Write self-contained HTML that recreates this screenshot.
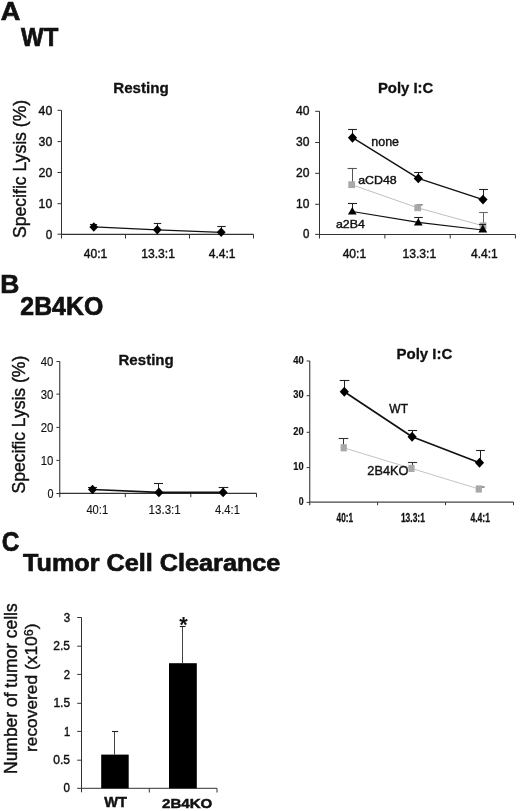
<!DOCTYPE html>
<html><head><meta charset="utf-8"><style>
html,body{margin:0;padding:0;background:#fff;}
body{width:520px;height:811px;overflow:hidden;}
svg{display:block;will-change:transform;font-family:"Liberation Sans",sans-serif;}
</style></head><body>
<svg width="520" height="811" viewBox="0 0 520 811">
<rect width="520" height="811" fill="#fff"/>
<text x="0.69" y="19.95" font-size="26.60" font-weight="bold" fill="#111" stroke="#111" stroke-width="0.7" textLength="19.59" lengthAdjust="spacingAndGlyphs">A</text>
<text x="21.05" y="45.95" font-size="25.29" font-weight="bold" fill="#111" stroke="#111" stroke-width="0.7" textLength="37.22" lengthAdjust="spacingAndGlyphs">WT</text>
<line x1="61.5" y1="110.2" x2="61.5" y2="238.5" stroke="#333" stroke-width="1"/>
<line x1="57.5" y1="110.3" x2="61.5" y2="110.3" stroke="#333" stroke-width="1"/>
<line x1="57.5" y1="141.6" x2="61.5" y2="141.6" stroke="#333" stroke-width="1"/>
<line x1="57.5" y1="172.5" x2="61.5" y2="172.5" stroke="#333" stroke-width="1"/>
<line x1="57.5" y1="203.7" x2="61.5" y2="203.7" stroke="#333" stroke-width="1"/>
<line x1="57.5" y1="234.2" x2="61.5" y2="234.2" stroke="#333" stroke-width="1"/>
<line x1="61.5" y1="234.4" x2="253.5" y2="234.4" stroke="#333" stroke-width="1.2"/>
<line x1="125.5" y1="234.4" x2="125.5" y2="238.5" stroke="#333" stroke-width="1"/>
<line x1="189.5" y1="234.4" x2="189.5" y2="238.5" stroke="#333" stroke-width="1"/>
<line x1="253.5" y1="234.4" x2="253.5" y2="238.5" stroke="#333" stroke-width="1"/>
<text x="38.57" y="114.65" font-size="13.04" font-weight="normal" fill="#111" stroke="#111" stroke-width="0.4" textLength="13.71" lengthAdjust="spacingAndGlyphs">40</text>
<text x="38.58" y="145.95" font-size="13.04" font-weight="normal" fill="#111" stroke="#111" stroke-width="0.4" textLength="13.70" lengthAdjust="spacingAndGlyphs">30</text>
<text x="38.59" y="176.85" font-size="13.04" font-weight="normal" fill="#111" stroke="#111" stroke-width="0.4" textLength="13.69" lengthAdjust="spacingAndGlyphs">20</text>
<text x="38.60" y="208.05" font-size="13.04" font-weight="normal" fill="#111" stroke="#111" stroke-width="0.4" textLength="13.68" lengthAdjust="spacingAndGlyphs">10</text>
<text x="45.69" y="238.55" font-size="13.04" font-weight="normal" fill="#111" stroke="#111" stroke-width="0.4" textLength="6.54" lengthAdjust="spacingAndGlyphs">0</text>
<text x="113.23" y="92.65" font-size="14.90" font-weight="bold" fill="#111" stroke="#111" stroke-width="0.3" textLength="55.57" lengthAdjust="spacingAndGlyphs">Resting</text>
<text transform="translate(26.40 238.03) rotate(-90)" x="0" y="0" font-size="18" font-weight="normal" fill="#111" stroke="#111" stroke-width="0.4" textLength="138.22" lengthAdjust="spacingAndGlyphs">Specific Lysis (%)</text>
<text x="83.75" y="257.75" font-size="11.89" font-weight="normal" fill="#111" stroke="#111" stroke-width="0.4" textLength="23.48" lengthAdjust="spacingAndGlyphs">40:1</text>
<text x="141.28" y="257.75" font-size="11.89" font-weight="normal" fill="#111" stroke="#111" stroke-width="0.4" textLength="33.72" lengthAdjust="spacingAndGlyphs">13.3:1</text>
<text x="208.75" y="257.75" font-size="12.06" font-weight="normal" fill="#111" stroke="#111" stroke-width="0.4" textLength="26.81" lengthAdjust="spacingAndGlyphs">4.4:1</text>
<line x1="157.5" y1="229.8" x2="157.5" y2="223.5" stroke="#222" stroke-width="1"/>
<line x1="153.8" y1="223.5" x2="161.2" y2="223.5" stroke="#222" stroke-width="1.1"/>
<line x1="221.5" y1="232.3" x2="221.5" y2="226.5" stroke="#222" stroke-width="1"/>
<line x1="217.3" y1="226.5" x2="225.7" y2="226.5" stroke="#222" stroke-width="1.1"/>
<line x1="93.5" y1="226.9" x2="93.5" y2="224.5" stroke="#222" stroke-width="1"/>
<line x1="89.9" y1="224.5" x2="97.1" y2="224.5" stroke="#222" stroke-width="1.1"/>
<polyline points="93.8,226.9 157.3,229.8 221.2,232.3" fill="none" stroke="#111" stroke-width="1.2" stroke-linejoin="round"/>
<polygon points="93.8,222.148 98.2,226.9 93.8,231.65200000000002 89.39999999999999,226.9" fill="#000"/>
<polygon points="157.3,225.048 161.70000000000002,229.8 157.3,234.55200000000002 152.9,229.8" fill="#000"/>
<polygon points="221.2,227.548 225.6,232.3 221.2,237.05200000000002 216.79999999999998,232.3" fill="#000"/>
<line x1="319.5" y1="111.2" x2="319.5" y2="238.5" stroke="#333" stroke-width="1"/>
<line x1="315.2" y1="111.3" x2="319.5" y2="111.3" stroke="#333" stroke-width="1"/>
<line x1="315.2" y1="142.5" x2="319.5" y2="142.5" stroke="#333" stroke-width="1"/>
<line x1="315.2" y1="173.3" x2="319.5" y2="173.3" stroke="#333" stroke-width="1"/>
<line x1="315.2" y1="204.3" x2="319.5" y2="204.3" stroke="#333" stroke-width="1"/>
<line x1="315.2" y1="234.4" x2="319.5" y2="234.4" stroke="#333" stroke-width="1"/>
<line x1="319.5" y1="234.5" x2="515.4" y2="234.5" stroke="#333" stroke-width="1.2"/>
<line x1="384.9" y1="234.5" x2="384.9" y2="238.5" stroke="#333" stroke-width="1"/>
<line x1="450.2" y1="234.5" x2="450.2" y2="238.5" stroke="#333" stroke-width="1"/>
<line x1="515.4" y1="234.5" x2="515.4" y2="238.5" stroke="#333" stroke-width="1"/>
<text x="295.95" y="115.25" font-size="11.89" font-weight="normal" fill="#111" stroke="#111" stroke-width="0.4" textLength="13.45" lengthAdjust="spacingAndGlyphs">40</text>
<text x="295.94" y="146.45" font-size="11.89" font-weight="normal" fill="#111" stroke="#111" stroke-width="0.4" textLength="13.45" lengthAdjust="spacingAndGlyphs">30</text>
<text x="295.94" y="177.25" font-size="11.89" font-weight="normal" fill="#111" stroke="#111" stroke-width="0.4" textLength="13.45" lengthAdjust="spacingAndGlyphs">20</text>
<text x="296.04" y="208.25" font-size="11.89" font-weight="normal" fill="#111" stroke="#111" stroke-width="0.4" textLength="13.35" lengthAdjust="spacingAndGlyphs">10</text>
<text x="302.97" y="238.35" font-size="11.89" font-weight="normal" fill="#111" stroke="#111" stroke-width="0.4" textLength="6.39" lengthAdjust="spacingAndGlyphs">0</text>
<text x="377.91" y="92.65" font-size="14.21" font-weight="bold" fill="#111" stroke="#111" stroke-width="0.3" textLength="55.43" lengthAdjust="spacingAndGlyphs">Poly I:C</text>
<text x="342.65" y="257.95" font-size="11.89" font-weight="normal" fill="#111" stroke="#111" stroke-width="0.4" textLength="23.48" lengthAdjust="spacingAndGlyphs">40:1</text>
<text x="402.48" y="257.95" font-size="11.89" font-weight="normal" fill="#111" stroke="#111" stroke-width="0.4" textLength="33.72" lengthAdjust="spacingAndGlyphs">13.3:1</text>
<text x="470.95" y="257.95" font-size="12.06" font-weight="normal" fill="#111" stroke="#111" stroke-width="0.4" textLength="26.81" lengthAdjust="spacingAndGlyphs">4.4:1</text>
<polyline points="351.7,184.7 417.7,207.8 483.0,225.8" fill="none" stroke="#c0c0c0" stroke-width="1.0" stroke-linejoin="round"/>
<line x1="352.5" y1="184.7" x2="352.5" y2="168.5" stroke="#555" stroke-width="1"/>
<line x1="347.59999999999997" y1="168.5" x2="356.8" y2="168.5" stroke="#555" stroke-width="1.1"/>
<line x1="416.5" y1="204.9" x2="422.6" y2="204.9" stroke="#444" stroke-width="1.1"/>
<line x1="483.5" y1="224.8" x2="483.5" y2="212.5" stroke="#666" stroke-width="1"/>
<line x1="479.2" y1="212.5" x2="487.8" y2="212.5" stroke="#666" stroke-width="1.1"/>
<rect x="348.3" y="181.29999999999998" width="6.8" height="6.8" fill="#a9a9a9"/>
<rect x="414.3" y="204.4" width="6.8" height="6.8" fill="#a9a9a9"/>
<rect x="479.6" y="222.4" width="6.8" height="6.8" fill="#a9a9a9"/>
<line x1="352.5" y1="210" x2="352.5" y2="203.5" stroke="#222" stroke-width="1"/>
<line x1="348.0" y1="203.5" x2="357.0" y2="203.5" stroke="#222" stroke-width="1.1"/>
<line x1="418.5" y1="221" x2="418.5" y2="217.5" stroke="#222" stroke-width="1"/>
<line x1="414.2" y1="217.5" x2="422.8" y2="217.5" stroke="#222" stroke-width="1.1"/>
<line x1="482.5" y1="228" x2="482.5" y2="224.5" stroke="#222" stroke-width="1"/>
<line x1="479.0" y1="224.5" x2="486.0" y2="224.5" stroke="#222" stroke-width="1.1"/>
<polyline points="352.3,211.5 418.3,222.3 482.8,230.0" fill="none" stroke="#111" stroke-width="1.2" stroke-linejoin="round"/>
<polygon points="352.3,207.1 356.7,214.6 347.90000000000003,214.6" fill="#000"/>
<polygon points="418.3,218.3 422.7,225.4 413.90000000000003,225.4" fill="#000"/>
<polygon points="482.8,224.6 487.2,232.6 478.40000000000003,232.6" fill="#000"/>
<line x1="352.5" y1="137.7" x2="352.5" y2="129.5" stroke="#222" stroke-width="1"/>
<line x1="348.1" y1="129.5" x2="356.9" y2="129.5" stroke="#222" stroke-width="1.1"/>
<line x1="418.5" y1="178.4" x2="418.5" y2="172.5" stroke="#222" stroke-width="1"/>
<line x1="414.2" y1="172.5" x2="422.8" y2="172.5" stroke="#222" stroke-width="1.1"/>
<line x1="483.5" y1="199.6" x2="483.5" y2="189.5" stroke="#222" stroke-width="1"/>
<line x1="479.1" y1="189.5" x2="487.9" y2="189.5" stroke="#222" stroke-width="1.1"/>
<polyline points="352.5,137.7 418.3,178.4 483.0,199.6" fill="none" stroke="#111" stroke-width="1.4" stroke-linejoin="round"/>
<polygon points="352.5,132.732 357.1,137.7 352.5,142.66799999999998 347.9,137.7" fill="#000"/>
<polygon points="418.3,173.43200000000002 422.90000000000003,178.4 418.3,183.368 413.7,178.4" fill="#000"/>
<polygon points="483.0,194.632 487.6,199.6 483.0,204.56799999999998 478.4,199.6" fill="#000"/>
<text x="371.29" y="145.55" font-size="13.01" font-weight="normal" fill="#111" stroke="#111" stroke-width="0.4" textLength="27.76" lengthAdjust="spacingAndGlyphs">none</text>
<text x="358.19" y="183.75" font-size="11.03" font-weight="normal" fill="#111" stroke="#111" stroke-width="0.4" textLength="38.47" lengthAdjust="spacingAndGlyphs">aCD48</text>
<text x="335.99" y="227.75" font-size="11.03" font-weight="normal" fill="#111" stroke="#111" stroke-width="0.4" textLength="28.89" lengthAdjust="spacingAndGlyphs">a2B4</text>
<text x="0.34" y="292.75" font-size="26.31" font-weight="bold" fill="#111" stroke="#111" stroke-width="0.7" textLength="19.11" lengthAdjust="spacingAndGlyphs">B</text>
<text x="20.37" y="315.35" font-size="25.36" font-weight="bold" fill="#111" stroke="#111" stroke-width="0.7" textLength="82.85" lengthAdjust="spacingAndGlyphs">2B4KO</text>
<line x1="59.7" y1="361.3" x2="59.7" y2="497.3" stroke="#555" stroke-width="1.3"/>
<line x1="56.4" y1="361.5" x2="59.7" y2="361.5" stroke="#333" stroke-width="1"/>
<line x1="56.4" y1="394.1" x2="59.7" y2="394.1" stroke="#333" stroke-width="1"/>
<line x1="56.4" y1="427.4" x2="59.7" y2="427.4" stroke="#333" stroke-width="1"/>
<line x1="56.4" y1="460.4" x2="59.7" y2="460.4" stroke="#333" stroke-width="1"/>
<line x1="56.4" y1="493.5" x2="59.7" y2="493.5" stroke="#333" stroke-width="1"/>
<line x1="59.7" y1="493.3" x2="256.5" y2="493.3" stroke="#333" stroke-width="1.3"/>
<line x1="125.3" y1="493.3" x2="125.3" y2="497.2" stroke="#333" stroke-width="1"/>
<line x1="190.8" y1="493.3" x2="190.8" y2="497.2" stroke="#333" stroke-width="1"/>
<line x1="256.5" y1="493.3" x2="256.5" y2="497.2" stroke="#333" stroke-width="1"/>
<text x="40.74" y="366.45" font-size="12.89" font-weight="normal" fill="#111" stroke="#111" stroke-width="0.15" textLength="12.70" lengthAdjust="spacingAndGlyphs">40</text>
<text x="40.76" y="399.05" font-size="12.89" font-weight="normal" fill="#111" stroke="#111" stroke-width="0.15" textLength="12.69" lengthAdjust="spacingAndGlyphs">30</text>
<text x="40.76" y="432.35" font-size="12.89" font-weight="normal" fill="#111" stroke="#111" stroke-width="0.15" textLength="12.68" lengthAdjust="spacingAndGlyphs">20</text>
<text x="40.79" y="465.35" font-size="12.89" font-weight="normal" fill="#111" stroke="#111" stroke-width="0.15" textLength="12.65" lengthAdjust="spacingAndGlyphs">10</text>
<text x="47.43" y="498.45" font-size="12.89" font-weight="normal" fill="#111" stroke="#111" stroke-width="0.15" textLength="6.02" lengthAdjust="spacingAndGlyphs">0</text>
<text x="118.46" y="365.35" font-size="15.17" font-weight="bold" fill="#111" stroke="#111" stroke-width="0.3" textLength="55.32" lengthAdjust="spacingAndGlyphs">Resting</text>
<text transform="translate(24.70 493.43) rotate(-90)" x="0" y="0" font-size="18" font-weight="normal" fill="#111" stroke="#111" stroke-width="0.4" textLength="137.72" lengthAdjust="spacingAndGlyphs">Specific Lysis (%)</text>
<text x="86.38" y="513.95" font-size="12.46" font-weight="normal" fill="#111" stroke="#111" stroke-width="0.1" textLength="21.83" lengthAdjust="spacingAndGlyphs">40:1</text>
<text x="148.52" y="513.95" font-size="12.46" font-weight="normal" fill="#111" stroke="#111" stroke-width="0.1" textLength="32.23" lengthAdjust="spacingAndGlyphs">13.3:1</text>
<text x="214.98" y="513.95" font-size="12.65" font-weight="normal" fill="#111" stroke="#111" stroke-width="0.1" textLength="25.02" lengthAdjust="spacingAndGlyphs">4.4:1</text>
<line x1="158.5" y1="492.4" x2="158.5" y2="483.5" stroke="#222" stroke-width="1"/>
<line x1="154.0" y1="483.5" x2="163.0" y2="483.5" stroke="#222" stroke-width="1.1"/>
<line x1="223.5" y1="492.4" x2="223.5" y2="487.5" stroke="#222" stroke-width="1"/>
<line x1="218.7" y1="487.5" x2="228.3" y2="487.5" stroke="#222" stroke-width="1.1"/>
<line x1="92.5" y1="489.5" x2="92.5" y2="487.5" stroke="#222" stroke-width="1"/>
<line x1="88.0" y1="487.5" x2="97.0" y2="487.5" stroke="#222" stroke-width="1.1"/>
<polyline points="92.5,489.5 158.9,492.4 223.1,492.4" fill="none" stroke="#111" stroke-width="1.6" stroke-linejoin="round"/>
<polygon points="92.5,484.64 97.0,489.5 92.5,494.36 88.0,489.5" fill="#000"/>
<polygon points="158.9,487.53999999999996 163.4,492.4 158.9,497.26 154.4,492.4" fill="#000"/>
<polygon points="223.1,487.53999999999996 227.6,492.4 223.1,497.26 218.6,492.4" fill="#000"/>
<line x1="309.7" y1="360.8" x2="309.7" y2="505.2" stroke="#555" stroke-width="1.3"/>
<line x1="306.6" y1="361.0" x2="309.6" y2="361.0" stroke="#333" stroke-width="1"/>
<line x1="306.6" y1="395.7" x2="309.6" y2="395.7" stroke="#333" stroke-width="1"/>
<line x1="306.6" y1="432.3" x2="309.6" y2="432.3" stroke="#333" stroke-width="1"/>
<line x1="306.6" y1="467.6" x2="309.6" y2="467.6" stroke="#333" stroke-width="1"/>
<line x1="306.6" y1="502.4" x2="309.6" y2="502.4" stroke="#333" stroke-width="1"/>
<line x1="309.6" y1="502.2" x2="513.5" y2="502.2" stroke="#444" stroke-width="1.2"/>
<line x1="377.6" y1="502.2" x2="377.6" y2="505.2" stroke="#333" stroke-width="1"/>
<line x1="445.5" y1="502.2" x2="445.5" y2="505.2" stroke="#333" stroke-width="1"/>
<line x1="513.5" y1="502.2" x2="513.5" y2="505.2" stroke="#333" stroke-width="1"/>
<text x="293.28" y="363.65" font-size="11.32" font-weight="bold" fill="#111" stroke="#111" stroke-width="0.2" textLength="10.46" lengthAdjust="spacingAndGlyphs">40</text>
<text x="293.37" y="398.35" font-size="11.32" font-weight="bold" fill="#111" stroke="#111" stroke-width="0.2" textLength="10.37" lengthAdjust="spacingAndGlyphs">30</text>
<text x="293.37" y="434.95" font-size="11.32" font-weight="bold" fill="#111" stroke="#111" stroke-width="0.2" textLength="10.37" lengthAdjust="spacingAndGlyphs">20</text>
<text x="293.37" y="470.25" font-size="11.32" font-weight="bold" fill="#111" stroke="#111" stroke-width="0.2" textLength="10.37" lengthAdjust="spacingAndGlyphs">10</text>
<text x="298.83" y="505.05" font-size="11.32" font-weight="bold" fill="#111" stroke="#111" stroke-width="0.2" textLength="4.89" lengthAdjust="spacingAndGlyphs">0</text>
<text x="396.44" y="358.75" font-size="14.76" font-weight="bold" fill="#111" stroke="#111" stroke-width="0.3" textLength="55.92" lengthAdjust="spacingAndGlyphs">Poly I:C</text>
<text x="336.62" y="522.05" font-size="12.46" font-weight="bold" fill="#111" stroke="#111" stroke-width="0.3" textLength="16.44" lengthAdjust="spacingAndGlyphs">40:1</text>
<text x="400.91" y="522.05" font-size="12.46" font-weight="bold" fill="#111" stroke="#111" stroke-width="0.3" textLength="23.97" lengthAdjust="spacingAndGlyphs">13.3:1</text>
<text x="470.51" y="522.05" font-size="12.65" font-weight="bold" fill="#111" stroke="#111" stroke-width="0.3" textLength="19.45" lengthAdjust="spacingAndGlyphs">4.4:1</text>
<polyline points="343.7,447.8 411.5,468.4 478.8,489.0" fill="none" stroke="#c4c4c4" stroke-width="1.0" stroke-linejoin="round"/>
<line x1="343.5" y1="447.8" x2="343.5" y2="438.5" stroke="#333" stroke-width="1"/>
<line x1="338.7" y1="438.5" x2="348.3" y2="438.5" stroke="#333" stroke-width="1.1"/>
<line x1="412.5" y1="469.0" x2="412.5" y2="462.5" stroke="#333" stroke-width="1"/>
<line x1="407.9" y1="462.5" x2="417.1" y2="462.5" stroke="#333" stroke-width="1.1"/>
<line x1="478.8" y1="487.0" x2="484.6" y2="487.0" stroke="#333" stroke-width="1"/>
<rect x="340.59999999999997" y="444.2" width="6.2" height="7.2" fill="#a9a9a9"/>
<rect x="408.4" y="464.79999999999995" width="6.2" height="7.2" fill="#a9a9a9"/>
<rect x="475.7" y="485.4" width="6.2" height="7.2" fill="#a9a9a9"/>
<line x1="344.5" y1="391.8" x2="344.5" y2="380.5" stroke="#222" stroke-width="1"/>
<line x1="339.7" y1="380.5" x2="349.3" y2="380.5" stroke="#222" stroke-width="1.1"/>
<line x1="412.5" y1="436.7" x2="412.5" y2="430.5" stroke="#222" stroke-width="1"/>
<line x1="407.9" y1="430.5" x2="417.1" y2="430.5" stroke="#222" stroke-width="1.1"/>
<line x1="480.5" y1="462.7" x2="480.5" y2="450.5" stroke="#222" stroke-width="1"/>
<line x1="476.1" y1="450.5" x2="484.9" y2="450.5" stroke="#222" stroke-width="1.1"/>
<polyline points="344.3,391.8 412.1,436.7 479.5,462.7" fill="none" stroke="#111" stroke-width="1.7" stroke-linejoin="round"/>
<polygon points="344.3,386.832 348.90000000000003,391.8 344.3,396.76800000000003 339.7,391.8" fill="#000"/>
<polygon points="412.1,431.73199999999997 416.70000000000005,436.7 412.1,441.668 407.5,436.7" fill="#000"/>
<polygon points="479.5,457.73199999999997 484.1,462.7 479.5,467.668 474.9,462.7" fill="#000"/>
<text x="389.35" y="412.65" font-size="11.92" font-weight="normal" fill="#111" stroke="#111" stroke-width="0.4" textLength="18.60" lengthAdjust="spacingAndGlyphs">WT</text>
<text x="367.34" y="474.85" font-size="12.61" font-weight="normal" fill="#111" stroke="#111" stroke-width="0.4" textLength="41.04" lengthAdjust="spacingAndGlyphs">2B4KO</text>
<text x="1.77" y="550.75" font-size="27.51" font-weight="bold" fill="#111" stroke="#111" stroke-width="0.7" textLength="17.65" lengthAdjust="spacingAndGlyphs">C</text>
<text x="22.94" y="571.15" font-size="24.28" font-weight="bold" fill="#111" stroke="#111" stroke-width="0.7" textLength="257.47" lengthAdjust="spacingAndGlyphs">Tumor Cell Clearance</text>
<line x1="81.5" y1="617.3" x2="81.5" y2="792.3" stroke="#333" stroke-width="1"/>
<line x1="77.2" y1="617.5" x2="81.5" y2="617.5" stroke="#333" stroke-width="1"/>
<line x1="77.2" y1="646.2" x2="81.5" y2="646.2" stroke="#333" stroke-width="1"/>
<line x1="77.2" y1="674.4" x2="81.5" y2="674.4" stroke="#333" stroke-width="1"/>
<line x1="77.2" y1="703.3" x2="81.5" y2="703.3" stroke="#333" stroke-width="1"/>
<line x1="77.2" y1="731.4" x2="81.5" y2="731.4" stroke="#333" stroke-width="1"/>
<line x1="77.2" y1="760.2" x2="81.5" y2="760.2" stroke="#333" stroke-width="1"/>
<line x1="77.2" y1="788.3" x2="81.5" y2="788.3" stroke="#333" stroke-width="1"/>
<line x1="81.5" y1="788.3" x2="217.0" y2="788.3" stroke="#333" stroke-width="1"/>
<line x1="149.3" y1="788.3" x2="149.3" y2="792.5" stroke="#333" stroke-width="1"/>
<line x1="217.0" y1="788.3" x2="217.0" y2="792.5" stroke="#333" stroke-width="1"/>
<text x="63.68" y="621.65" font-size="12.18" font-weight="normal" fill="#111" stroke="#111" stroke-width="0.4" textLength="6.43" lengthAdjust="spacingAndGlyphs">3</text>
<text x="53.26" y="650.35" font-size="12.18" font-weight="normal" fill="#111" stroke="#111" stroke-width="0.4" textLength="16.74" lengthAdjust="spacingAndGlyphs">2.5</text>
<text x="63.79" y="678.55" font-size="12.18" font-weight="normal" fill="#111" stroke="#111" stroke-width="0.4" textLength="6.30" lengthAdjust="spacingAndGlyphs">2</text>
<text x="53.38" y="707.45" font-size="12.35" font-weight="normal" fill="#111" stroke="#111" stroke-width="0.4" textLength="16.69" lengthAdjust="spacingAndGlyphs">1.5</text>
<text x="63.95" y="735.55" font-size="12.35" font-weight="normal" fill="#111" stroke="#111" stroke-width="0.4" textLength="6.13" lengthAdjust="spacingAndGlyphs">1</text>
<text x="53.26" y="764.35" font-size="12.18" font-weight="normal" fill="#111" stroke="#111" stroke-width="0.4" textLength="16.75" lengthAdjust="spacingAndGlyphs">0.5</text>
<text x="63.58" y="792.45" font-size="12.18" font-weight="normal" fill="#111" stroke="#111" stroke-width="0.4" textLength="6.43" lengthAdjust="spacingAndGlyphs">0</text>
<rect x="101.2" y="754.6" width="27.5" height="33.7" fill="#000"/>
<rect x="169.0" y="663.2" width="27.8" height="125.1" fill="#000"/>
<line x1="114.5" y1="754.6" x2="114.5" y2="731.5" stroke="#444" stroke-width="1"/>
<line x1="112.0" y1="731.5" x2="118.2" y2="731.5" stroke="#222" stroke-width="1.1"/>
<line x1="182.5" y1="663" x2="182.5" y2="626.5" stroke="#444" stroke-width="1"/>
<line x1="179.8" y1="626.5" x2="185.6" y2="626.5" stroke="#222" stroke-width="1.1"/>
<text x="179.3" y="632.2" font-size="21.8" font-weight="bold" fill="#111">*</text>
<text x="104.25" y="807.35" font-size="14.97" font-weight="bold" fill="#111" stroke="#111" stroke-width="0.5" textLength="22.72" lengthAdjust="spacingAndGlyphs">WT</text>
<text x="162.10" y="808.15" font-size="13.61" font-weight="bold" fill="#111" stroke="#111" stroke-width="0.5" textLength="50.26" lengthAdjust="spacingAndGlyphs">2B4KO</text>
<text transform="translate(16.60 773.95) rotate(-90)" x="0" y="0" font-size="17.5" font-weight="normal" fill="#111" stroke="#111" stroke-width="0.4" textLength="170.66" lengthAdjust="spacingAndGlyphs">Number of tumor cells</text>
<text transform="translate(37.3 752.0) rotate(-90)" x="0" y="0" font-size="17.35" fill="#111" stroke="#111" stroke-width="0.4">recovered (x10<tspan font-size="12.5" dy="-4.6">6</tspan><tspan dy="4.6">)</tspan></text>
</svg>
</body></html>
